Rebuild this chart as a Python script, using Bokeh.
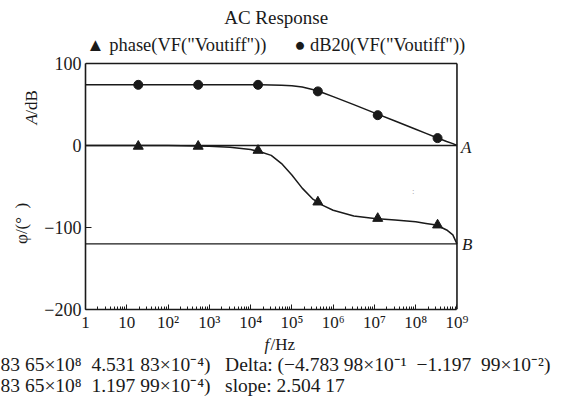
from bokeh.plotting import figure
from bokeh.models import Label, FixedTicker, Range1d
from bokeh.layouts import column, row
from bokeh.embed import file_html
from bokeh.resources import INLINE

# ---- data ----
curve_freq = [1, 10, 100, 1000, 3162, 10000, 17783, 31623, 56234, 100000, 177828,
              316228, 562341, 1000000, 3162278, 10000000, 31622777, 100000000,
              177827941, 316227766, 562341325, 794328235, 1000000000]
db_curve = [74, 74, 74, 74, 74, 74, 74, 73.9, 73.6, 73, 71.4, 68.4, 64.3, 59.6,
            49.8, 39.8, 29.8, 19.8, 14.8, 9.8, 4.8, 2.3, 0]
phase_curve = [0, 0, 0, -1, -2, -5, -8, -12, -22, -36, -52, -65, -73, -79,
               -86, -89, -91, -93, -95, -97, -103, -109, -120]

marker_freq = [19, 537, 15136, 426580, 12022644, 338844156]
db_markers = [74, 74, 74, 66, 37, 9]
phase_markers = [-1, -1, -6, -69, -89, -97]

cursor_a = 0
cursor_b = -120

x_ticks = [1, 10, 100, 1000, 10000, 100000, 1000000, 10000000, 100000000, 1000000000]
x_tick_labels = ["1", "10", "10²", "10³", "10⁴", "10⁵", "10⁶", "10⁷", "10⁸", "10⁹"]
y_ticks = [-200, -100, 0, 100]

NB = "\u00a0"
title_text = "AC Response"
legend_text = "▲ phase(VF(\"Voutiff\"))" + NB * 6 + "● dB20(VF(\"Voutiff\"))"
line1_text = ("83 65×10⁸" + NB * 2 + "4.531 83×10⁻⁴)" + NB * 3 + "Delta: (−4.783 98×10⁻¹"
              + NB * 2 + "−1.197" + NB * 2 + "99×10⁻²)")
line2_text = "83 65×10⁸" + NB * 2 + "1.197 99×10⁻⁴)" + NB * 3 + "slope: 2.504 17"

# ---- layout (canvas px) ----
W, H = 571, 401
LEFT_W = 41                  # narrow strip holding the rotated y labels
TOP_H = 335                  # height of the strip with the chart
FL, FT, FB = 83, 63, 309     # plot box left / top / bottom
BOX_W = 373                  # width of the 1 .. 1e9 box
FONT = "Liberation Serif"
INK = "#1a1a1a"
DEC = BOX_W / 9.0            # px per decade
PXU = 300.0 / (FB - FT)      # y units per px

x_end = 10 ** ((W - 2 - FL) / DEC)
y_end = y_ticks[-1] + (FT - 2) * PXU


def text_strip(w, h):
    f = figure(width=w, height=h, x_range=Range1d(0, w), y_range=Range1d(h, 0),
               output_backend="svg", toolbar_location=None, title=None,
               x_axis_location=None, y_axis_location=None, min_border=0)
    f.outline_line_color = None
    f.grid.visible = False
    f.background_fill_color = "white"
    f.border_fill_color = "white"
    return f


p = figure(width=W - LEFT_W, height=TOP_H, x_axis_type="log", output_backend="svg",
           title=None, toolbar_location=None, x_range=Range1d(x_ticks[0], x_end),
           y_range=Range1d(y_ticks[0], y_end))
p.min_border_left = FL - LEFT_W
p.min_border_right = 2
p.min_border_top = 2
p.min_border_bottom = TOP_H - FB
p.background_fill_color = "white"
p.border_fill_color = "white"
p.outline_line_color = None
p.grid.visible = False

minor = []
for k in range(9):
    for m in range(2, 10):
        minor.append(m * 10 ** k)
xa = p.xaxis[0]
xa.ticker = FixedTicker(ticks=x_ticks, minor_ticks=minor)
xa.bounds = (x_ticks[0], x_ticks[-1])
xa.major_label_overrides = {t: l for t, l in zip(x_ticks, x_tick_labels)}
xa.major_tick_in = 5
xa.major_tick_out = 0
xa.minor_tick_in = 3
xa.minor_tick_out = 0
xa.axis_line_width = 1.6
xa.axis_line_color = INK
xa.major_tick_line_color = INK
xa.minor_tick_line_color = INK
xa.major_label_text_font = FONT
xa.major_label_text_font_size = "17px"
xa.major_label_text_color = INK
xa.major_label_standoff = 3

ya = p.yaxis[0]
ya.ticker = FixedTicker(ticks=y_ticks, minor_ticks=[])
ya.bounds = (y_ticks[0], y_ticks[-1])
ya.major_tick_in = 6
ya.major_tick_out = 0
ya.minor_tick_in = 0
ya.minor_tick_out = 0
ya.axis_line_width = 1.6
ya.axis_line_color = INK
ya.major_tick_line_color = INK
ya.major_label_text_font = FONT
ya.major_label_text_font_size = "18px"
ya.major_label_text_color = INK
ya.major_label_standoff = 4

# top and right sides of the plot box
p.line([x_ticks[0], x_ticks[-1]], [y_ticks[-1], y_ticks[-1]], line_color=INK, line_width=1.6)
p.line([x_ticks[-1], x_ticks[-1]], [y_ticks[0], y_ticks[-1]], line_color=INK, line_width=1.6)

# cursor lines
p.line([x_ticks[0], x_ticks[-1]], [cursor_a, cursor_a], line_color=INK, line_width=1.4)
p.line([x_ticks[0], x_ticks[-1]], [cursor_b, cursor_b], line_color=INK, line_width=1.2)

# curves
p.line(curve_freq, db_curve, line_color=INK, line_width=1.5)
p.line(curve_freq, phase_curve, line_color=INK, line_width=1.5)
p.scatter(marker_freq, db_markers, marker="circle", size=9, fill_color=INK, line_color=INK)
p.scatter(marker_freq, phase_markers, marker="triangle", size=10, fill_color=INK, line_color=INK)


# helpers: place text in the chart by canvas pixel position
def dx(cx):
    return 10 ** ((cx - FL) / DEC)


def dy(cy):
    return y_ticks[-1] - (cy - FT) * PXU


def lab(fig, text, x, y, size, align="center", style="normal", color=INK, angle=0.0):
    fig.add_layout(Label(x=x, y=y, text=text, text_font=FONT, text_font_size=size,
                         text_font_style=style, text_align=align,
                         text_baseline="middle", text_color=color, angle=angle))


lab(p, title_text, dx(274.5), dy(17), "19px")
lab(p, legend_text, dx(274), dy(44), "18.5px")
lab(p, "A", dx(460), dy(147), "17px", align="left", style="italic")
lab(p, "B", dx(461), dy(243.5), "17px", align="left", style="italic")
lab(p, ":", dx(412), dy(190), "9px", color="#999999")

# rotated y labels
left = text_strip(LEFT_W, TOP_H)
lab(left, "A", 31, 133, "17px", align="left", style="italic", angle=1.5708)
lab(left, "/dB", 31, 122.5, "17px", align="left", angle=1.5708)
lab(left, "φ/(°" + NB * 2 + ")", 21, 241, "17px", angle=1.5708)

# x label and readouts
BH = H - TOP_H
bottom = text_strip(W, BH)
lab(bottom, "f", 264, 344 - TOP_H, "17px", align="left", style="italic")
lab(bottom, "/Hz", 270, 344 - TOP_H, "17px", align="left")
lab(bottom, line1_text, 0, 364 - TOP_H, "19.5px", align="left")
lab(bottom, line2_text, 0, 385 - TOP_H, "19.5px", align="left")

layout = column(row(left, p), bottom)
open("out.html", "w").write(file_html(layout, INLINE))
